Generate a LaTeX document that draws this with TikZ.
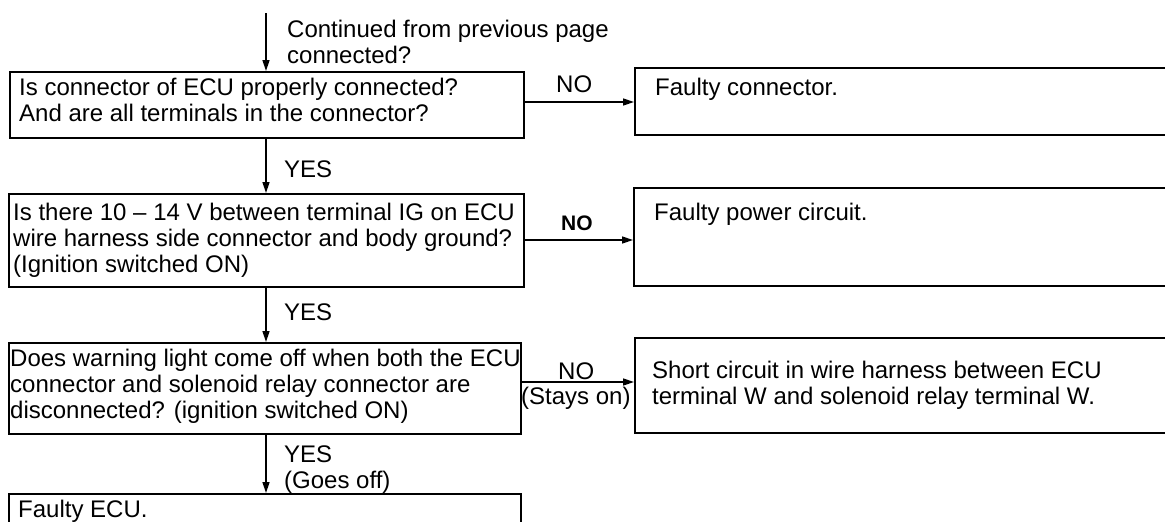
\documentclass[tikz,border=0pt]{standalone}
\usepackage{fontspec}
\setmainfont{Liberation Sans}
\usetikzlibrary{arrows.meta}
\newcommand\mylines[1]{\begin{tabular}[t]{@{}l@{}}#1\end{tabular}}
\begin{document}
\begin{tikzpicture}[x=1pt,y=-1pt,
  box/.style={draw, line width=2.2pt, rectangle, inner sep=0pt, anchor=north west},
  txt/.style={anchor=base west, inner sep=0pt, font=\fontsize{24}{26}\selectfont},
  flow/.style={line width=1.5pt, -{Triangle[length=11pt,width=7pt]}},
]
\useasboundingbox (0,0) rectangle (1165,522);
\clip (0,0) rectangle (1165,522);

% boxes
\node[box, minimum width=514pt, minimum height=66pt] (b1) at (9,71) {};
\node[box, minimum width=570pt, minimum height=67pt] (b2) at (634,67) {};
\node[box, minimum width=515pt, minimum height=93pt] (b3) at (8,193) {};
\node[box, minimum width=570pt, minimum height=98pt] (b4) at (633,187) {};
\node[box, minimum width=512pt, minimum height=91pt] (b5) at (8,342) {};
\node[box, minimum width=570pt, minimum height=95pt] (b6) at (634,337) {};
\node[box, minimum width=512pt, minimum height=80pt] (b7) at (8,493) {};

% box texts
\node[txt] (t1) at (19,95) {\mylines{Is connector of ECU properly connected?\\And are all terminals in the connector?}};
\node[txt] (t2) at (655,95) {Faulty connector.};
\node[txt] (t3) at (13,220) {\mylines{Is there 10 -- 14 V between terminal IG on ECU\\wire harness side connector and body ground?\\(Ignition switched ON)}};
\node[txt] (t4) at (654,220) {Faulty power circuit.};
\node[txt] (t5) at (10,366) {\mylines{Does warning light come off when both the ECU\\connector and solenoid relay connector are\\disconnected? (ignition switched ON)}};
\node[txt] (t6) at (652,378) {\mylines{Short circuit in wire harness between ECU\\terminal W and solenoid relay terminal W.}};
\node[txt] (t7) at (18,517) {Faulty ECU.};

% connectors
\coordinate (start) at (266,13);
\draw[flow] (start) -- (start |- b1.north);
\draw[flow] (b1.south -| start) -- (b3.north -| start);
\draw[flow] (b3.south -| start) -- (b5.north -| start);
\draw[flow] (b5.south -| start) -- (b7.north -| start);
\draw[flow] (b1.east |- 0,102) -- (b2.west |- 0,102);
\draw[flow] (b3.east |- 0,240) -- (b4.west |- 0,240);
\draw[flow] (b5.east |- 0,382) -- (b6.west |- 0,382);

% connector labels
\node[txt] (l0) at (287,37) {\mylines{Continued from previous page\\connected?}};
\node[txt] (l1) at (556,92) {NO};
\node[txt] (l2) at (284,177) {YES};
\node[txt, font=\fontsize{21}{26}\selectfont\bfseries] (l3) at (561,230) {NO};
\node[txt] (l4) at (284,320) {YES};
\node[txt] (l5) at (558,379) {NO};
\node[txt] (l6) at (521,404) {(Stays on)};
\node[txt] (l7) at (284,462) {\mylines{YES\\(Goes off)}};
\end{tikzpicture}
\end{document}
